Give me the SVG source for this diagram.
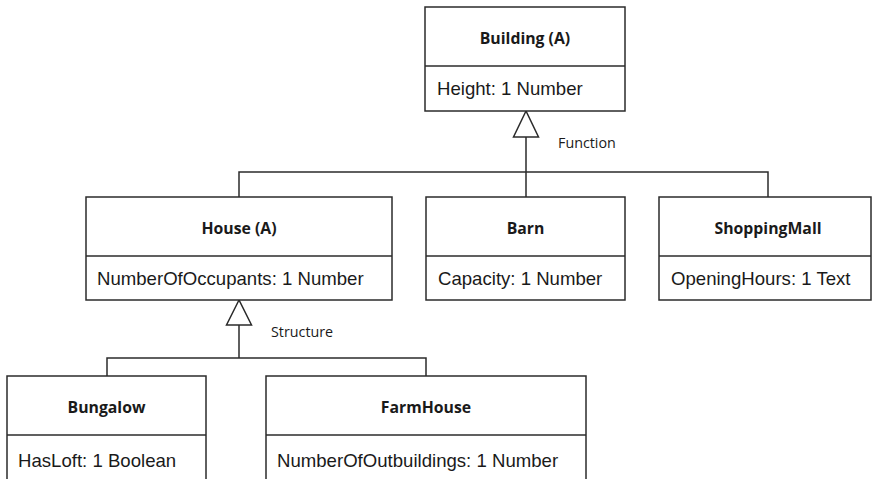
<svg xmlns="http://www.w3.org/2000/svg" width="872" height="479" viewBox="0 0 872 479">
  <style>
    .box { fill: #ffffff; stroke: #2b2b2b; stroke-width: 1.5; }
    .div { stroke: #2b2b2b; stroke-width: 1.5; }
    .title { font-family: "Open Sans", "Noto Sans", sans-serif; font-weight: bold; font-size: 15.8px; fill: #1a1a1a; text-anchor: middle; }
    .attr { font-family: "Liberation Sans", Arial, sans-serif; font-size: 18.6px; fill: #1a1a1a; }
    .label { font-family: "Open Sans", "Noto Sans", sans-serif; font-size: 14.3px; fill: #1a1a1a; }
    .line { fill: none; stroke: #2b2b2b; stroke-width: 1.5; }
    .tri { fill: #ffffff; stroke: #2b2b2b; stroke-width: 1.5; }
  </style>

  <!-- generalization connectors -->
  <g id="connectors">
    <!-- Building <- House, Barn, ShoppingMall -->
    <path class="line" d="M526 137 V172 M239 197 V172 H768 V197 M526 172 V197"/>
    <polygon class="tri" points="526,111 513.5,137 538.5,137"/>
    <text class="label" x="558" y="148">Function</text>
    <!-- House <- Bungalow, FarmHouse -->
    <path class="line" d="M239 325 V358 M107 376 V358 H426 V376"/>
    <polygon class="tri" points="239,300 226.5,325 251.5,325"/>
    <text class="label" x="271" y="337">Structure</text>
  </g>

  <g id="building">
    <rect class="box" x="425" y="7" width="200" height="104"/>
    <line class="div" x1="425" y1="66" x2="625" y2="66"/>
    <text class="title" x="525" y="44">Building (A)</text>
    <text class="attr" x="437" y="95">Height: 1 Number</text>
  </g>

  <g id="house">
    <rect class="box" x="86" y="197" width="306" height="103"/>
    <line class="div" x1="86" y1="256" x2="392" y2="256"/>
    <text class="title" x="239" y="234">House (A)</text>
    <text class="attr" x="97" y="285">NumberOfOccupants: 1 Number</text>
  </g>

  <g id="barn">
    <rect class="box" x="426" y="197" width="199" height="103"/>
    <line class="div" x1="426" y1="256" x2="625" y2="256"/>
    <text class="title" x="525.5" y="234">Barn</text>
    <text class="attr" x="438" y="285">Capacity: 1 Number</text>
  </g>

  <g id="shoppingmall">
    <rect class="box" x="659" y="197" width="212" height="103"/>
    <line class="div" x1="659" y1="256" x2="871" y2="256"/>
    <text class="title" x="768" y="234">ShoppingMall</text>
    <text class="attr" x="671" y="285">OpeningHours: 1 Text</text>
  </g>

  <g id="bungalow">
    <rect class="box" x="7" y="376" width="199" height="106"/>
    <line class="div" x1="7" y1="435" x2="206" y2="435"/>
    <text class="title" x="106.5" y="413">Bungalow</text>
    <text class="attr" x="18" y="467">HasLoft: 1 Boolean</text>
  </g>

  <g id="farmhouse">
    <rect class="box" x="266" y="376" width="320" height="106"/>
    <line class="div" x1="266" y1="435" x2="586" y2="435"/>
    <text class="title" x="426" y="413">FarmHouse</text>
    <text class="attr" x="277" y="467">NumberOfOutbuildings: 1 Number</text>
  </g>
</svg>
